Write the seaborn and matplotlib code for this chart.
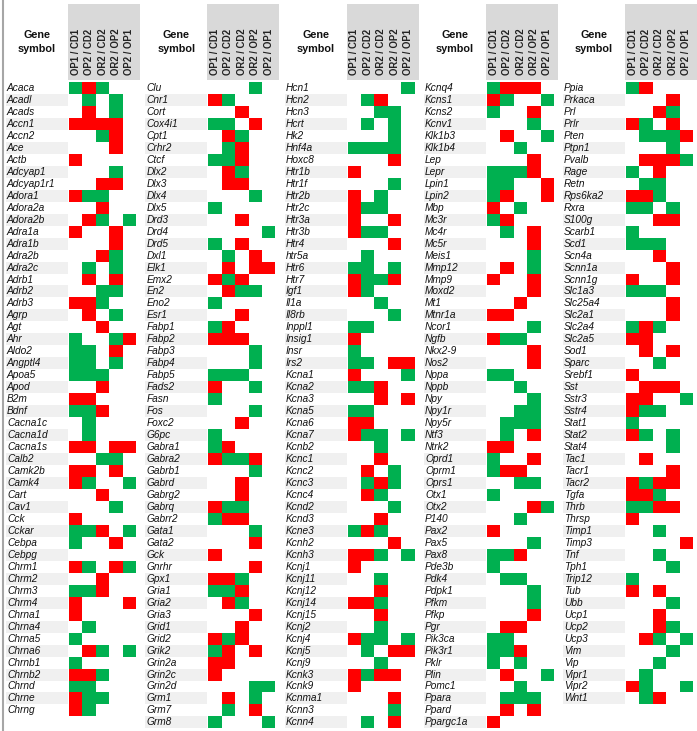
import numpy as np
import pandas as pd
import matplotlib
matplotlib.use("Agg")
import matplotlib.pyplot as plt
import seaborn as sns
from matplotlib.colors import ListedColormap
from matplotlib.patches import Rectangle
from matplotlib.lines import Line2D
import matplotlib.transforms as mtrans

# ---------------- data ----------------
col_labels = ["OP1 / CD1", "OP2 / CD2", "OR2 / CD2", "OR2 / OP2", "OP2 / OP1"]
# codes: '.' = no change, 'R' = red, 'G' = green  (one char per comparison column)

genes_1 = ["Acaca", "Acadl", "Acads", "Accn1", "Accn2", "Ace", "Actb", "Adcyap1", "Adcyap1r1",
           "Adora1", "Adora2a", "Adora2b", "Adra1a", "Adra1b", "Adra2b", "Adra2c", "Adrb1", "Adrb2",
           "Adrb3", "Agrp", "Agt", "Ahr", "Aldo2", "Angptl4", "Apoa5", "Apod", "B2m", "Bdnf",
           "Cacna1c", "Cacna1d", "Cacna1s", "Calb2", "Camk2b", "Camk4", "Cart", "Cav1", "Cck",
           "Cckar", "Cebpa", "Cebpg", "Chrm1", "Chrm2", "Chrm3", "Chrm4", "Chrna1", "Chrna4",
           "Chrna5", "Chrna6", "Chrnb1", "Chrnb2", "Chrnd", "Chrne", "Chrng"]
codes_1 = ["GRG..", ".G.G.", ".R.G.", "RRRR.", "..GR.", "...R.", "R....", "...G.", "..RR.",
           "RGG..", "..R..", ".RG.G", "R..R.", "...R.", "..RG.", ".G.G.", ".R.R.", "..GG.",
           "RRG..", ".R.G.", "..R..", "G..GR", "GG.R.", "GG.G.", "GGG..", "..R..", "RR...", "GGR..",
           ".G...", ".G...", "RR.RR", "..GG.", "RR.R.", "RG..G", "..R..", "...G.", "R....",
           "GGR.G", "G..R.", ".....", "RG.RG", "..R..", "GGR..", "R...R", "R....", ".G...",
           "G....", ".RG.G", "G....", "RRG..", "GG...", "RGG..", "RG..."]

genes_2 = ["Clu", "Cnr1", "Cort", "Cox4i1", "Cpt1", "Crhr2", "Ctcf", "Dlx2", "Dlx3", "Dlx4",
           "Dlx5", "Drd3", "Drd4", "Drd5", "Dxl1", "Elk1", "Emx2", "En2", "Eno2", "Esr1", "Fabp1",
           "Fabp2", "Fabp3", "Fabp4", "Fabp5", "Fads2", "Fasn", "Fos", "Foxc2", "G6pc", "Gabra1",
           "Gabra2", "Gabrb1", "Gabrd", "Gabrg2", "Gabrq", "Gabrr2", "Gata1", "Gata2", "Gck",
           "Gnrhr", "Gpx1", "Gria1", "Gria2", "Gria3", "Grid1", "Grid2", "Grik2", "Grin2a",
           "Grin2c", "Grin2d", "Grm1", "Grm7", "Grm8"]
codes_2 = ["...G.", "RG...", "..R..", "GG.R.", ".RG..", ".GR..", "GGR..", ".RG..", ".RR..", "...G.",
           "G....", "..R..", "....G", "G.R..", ".G.R.", ".R.RR", "RGR..", ".RGG.", "G....", "..R..", "GR...",
           "RRR..", "...G.", "...G.", "GGG..", "R..G.", "G....", "...G.", "..R..", "G....", "GR...",
           "RGGR.", "...G.", "..R..", "..R..", "RGG..", "GRR..", "...G.", "...R.", "R....",
           "...R.", "RRG..", "GGR..", ".RG..", "...R.", "..R..", "RGR..", "GR.R.", "RR...",
           "R....", "...GG", ".R.G.", ".G.R.", "G...G"]

genes_3 = ["Hcn1", "Hcn2", "Hcn3", "Hcrt", "Hk2", "Hnf4a", "Hoxc8", "Htr1b", "Htr1f", "Htr2b",
           "Htr2c", "Htr3a", "Htr3b", "Htr4", "htr5a", "Htr6", "Htr7", "Igf1", "Il1a", "Il8rb",
           "Inppl1", "Insig1", "Insr", "Irs2", "Kcna1", "Kcna2", "Kcna3", "Kcna5", "Kcna6", "Kcna7",
           "Kcnb2", "Kcnc1", "Kcnc2", "Kcnc3", "Kcnc4", "Kcnd2", "Kcnd3", "Kcne3", "Kcnh2", "Kcnh3",
           "Kcnj1", "Kcnj11", "Kcnj12", "Kcnj14", "Kcnj15", "Kcnj2", "Kcnj4", "Kcnj5", "Kcnj9",
           "Kcnk3", "Kcnk9", "Kcnma1", "Kcnn3", "Kcnn4"]
codes_3 = ["....G", ".GR..", "..GG.", ".G.G.", "...G.", "GGGG.", "...R.", "R....", "...G.", "R.G..",
           "RGG..", "R..R.", "RGG..", "...R.", ".G...", "GG.G.", "RGGR.", "RG...", "..G..", "...G.",
           "GG...", "R....", "G....", "GG.RR", "R...G", "GGR..", "..R.R", "GG...", "RR...", "RGG.G",
           "..G..", "..R..", ".R.G.", ".GRG.", ".RG..", "...G.", "..R..", "GRG..", "...R.", "RRG.G",
           "R....", "..G..", "..R..", "RRG..", "..R..", "..G..", "RGG.G", ".G.RR", "..G..",
           "RGRR.", "R....", "...R.", "...G.", ".G.R."]

genes_4 = ["Kcnq4", "Kcns1", "Kcns2", "Kcnv1", "Klk1b3", "Klk1b4", "Lep", "Lepr", "Lpin1", "Lpin2",
           "Mbp", "Mc3r", "Mc4r", "Mc5r", "Meis1", "Mmp12", "Mmp9", "Moxd2", "Mt1", "Mtnr1a",
           "Ncor1", "Ngfb", "Nkx2-9", "Nos2", "Nppa", "Nppb", "Npy", "Npy1r", "Npy5r", "Ntf3",
           "Ntrk2", "Oprd1", "Oprm1", "Oprs1", "Otx1", "Otx2", "P140", "Pax2", "Pax5", "Pax8",
           "Pde3b", "Pdk4", "Pdpk1", "Pfkm", "Pfkp", "Pgr", "Pik3ca", "Pik3r1", "Pklr", "Plin",
           "Pomc1", "Ppara", "Ppard", "Ppargc1a"]
codes_4 = ["GRRR.", "RG..G", "G..R.", "...G.", ".R..G", "..G..", "...R.", "GGGR.", "GG..R", "GR..R",
           "R.G..", "GR...", ".G.R.", "...R.", "...G.", ".R.G.", "R..R.", "...R.", "..R..", "RR...",
           "...G.", "RGG..", "...R.", "...R.", "GG...", "..G..", "...G.", "..GG.", ".GGG.", ".G.R.",
           "RR...", "G..R.", "GRR..", "..GG.", "G....", "...RG", "..G..", "R....", "...G.", "GGR..",
           "G....", ".GG..", "...G.", "...G.", "...R.", ".RR..", "GG...", "GGR..", "G.G..", ".R..G",
           "..G..", ".GGG.", ".R.R.", "R...."]

genes_5 = ["Ppia", "Prkaca", "Prl", "Prlr", "Pten", "Ptpn1", "Pvalb", "Rage", "Retn", "Rps6ka2",
           "Rxra", "S100g", "Scarb1", "Scd1", "Scn4a", "Scnn1a", "Scnn1g", "Slc1a3", "Slc25a4",
           "Slc2a1", "Slc2a4", "Slc2a5", "Sod1", "Sparc", "Srebf1", "Sst", "Sstr3", "Sstr4", "Stat1",
           "Stat2", "Stat4", "Tac1", "Tacr1", "Tacr2", "Tgfa", "Thrb", "Thrsp", "Timp1", "Timp3",
           "Tnf", "Tph1", "Trip12", "Tub", "Ubb", "Ucp1", "Ucp2", "Ucp3", "Vim", "Vip", "Vipr1",
           "Vipr2", "Wnt1"]
codes_5 = ["GR...", "...R.", "..RG.", "RG.R.", ".GGGR", "...G.", ".RRRG", "G.R..", ".GG..", "RRG..",
           "GG.G.", "..RR.", "G....", "GGG..", "..R..", "...R.", "R..R.", "GGG..", "...R.",
           "...R.", "GRG..", "RR...", ".R.R.", "..G..", "R....", ".RRR.", "RR..G", "RGG..", "G....",
           "RG.G.", "...G.", ".R...", "...R.", "RGRR.", "RRG..", "GGRR.", "R....", "..G..", "....R",
           "..G..", "...G.", "G....", "R.R..", "...G.", "..R..", "..RG.", ".RG.G", "...G.", "..G..", ".G...",
           "RG..G", ".GR.."]

panels = [(genes_1, codes_1), (genes_2, codes_2), (genes_3, codes_3),
          (genes_4, codes_4), (genes_5, codes_5)]

# ---------------- drawing ----------------
sns.set_theme(style="white")
plt.rcParams['font.family'] = ['Liberation Sans', 'DejaVu Sans']

W, H = 697, 731
fig = plt.figure(figsize=(W / 100, H / 100), dpi=100)
fig.patch.set_facecolor("white")

cmap = ListedColormap(["#ffffff", "#ff0000", "#00b050"])
code_map = {".": 0, "R": 1, "G": 2}

offsets = [0, 139.3, 278.6, 418, 557]
ROW_TOP = 82.0
RH = 11.97
CELL_W = 13.4

for k, (genes, codes) in enumerate(panels):
    off = offsets[k]
    n = len(genes)
    mat = np.array([[code_map[c] for c in s] for s in codes])
    df = pd.DataFrame(mat, index=genes, columns=col_labels)

    # header box
    fig.patches.append(Rectangle(((off + 68) / W, 1 - 80 / H), 72 / W, 76 / H,
                                 transform=fig.transFigure, facecolor="#d9d9d9",
                                 edgecolor="none", zorder=0))
    fig.text((off + 37) / W, 1 - 42 / H, "Gene\nsymbol", ha="center", va="center",
             fontweight="bold", fontsize=7.8, linespacing=1.55, color="#111111")
    for j, lab in enumerate(col_labels):
        x = off + 69 + CELL_W * (j + 0.5)
        fig.text(x / W, 1 - 75 / H, lab, rotation=90, ha="center", va="bottom",
                 fontweight="bold", fontsize=6.9, color="#222222")

    ax = fig.add_axes([(off + 69) / W, 1 - (ROW_TOP + n * RH) / H,
                       5 * CELL_W / W, n * RH / H])
    sns.heatmap(df, cmap=cmap, vmin=-0.5, vmax=2.5, cbar=False,
                xticklabels=False, yticklabels=False, linewidths=0, ax=ax)
    ax.set_xlabel("")
    ax.set_ylabel("")

    tr = mtrans.blended_transform_factory(fig.transFigure, ax.transData)
    for i, g in enumerate(genes):
        if i % 2 == 1:
            ax.add_patch(Rectangle(((off + 6) / W, i), 62 / W, 1, transform=tr,
                                   facecolor="#f0f0f0", edgecolor="none",
                                   clip_on=False, zorder=0))
        ax.text((off + 7) / W, i + 0.5, g, transform=tr, ha="left", va="center",
                fontsize=7.3, style="italic", color="#111111", clip_on=False, zorder=3)

fig.add_artist(Line2D([2.5 / W, 2.5 / W], [0, 1], transform=fig.transFigure,
                      color="#a6a6a6", lw=1.5))

fig.savefig("out.png", dpi=100, facecolor="white")
